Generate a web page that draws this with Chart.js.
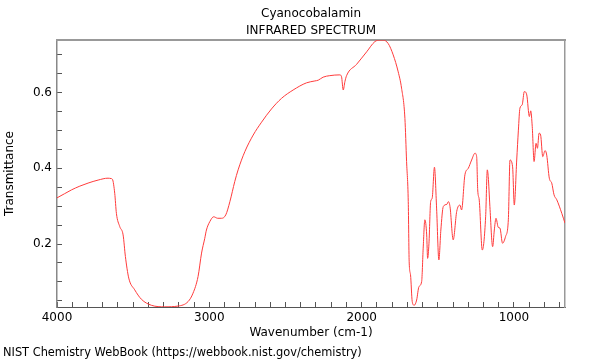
<!DOCTYPE html>
<html>
<head>
<meta charset="utf-8">
<script src="https://cdn.jsdelivr.net/npm/chart.js@4"></script>
<style>
  html, body { margin: 0; padding: 0; background: #fff; }
  #wrap { position: relative; width: 600px; height: 360px; }
  #footer { position: absolute; left: 3px; top: 345px; font: 11.4px "DejaVu Sans", sans-serif; color: #000; white-space: nowrap; }
</style>
</head>
<body>
<div id="wrap">
  <canvas id="c" width="600" height="360"></canvas>
  <div id="footer">NIST Chemistry WebBook (https://webbook.nist.gov/chemistry)</div>
</div>
<script>
const chartTitle = ['Cyanocobalamin', 'INFRARED SPECTRUM'];
const xAxisTitle = 'Wavenumber (cm-1)';
const yAxisTitle = 'Transmittance';
const xTickLabels = [4000, 3000, 2000, 1000];
const yTickLabels = [0.2, 0.4, 0.6];

const wavenumbers = [
  4000, 3950, 3905, 3850, 3796, 3730, 3665, 3645, 3636, 3621,
  3610, 3588, 3566, 3551, 3529, 3490, 3446, 3380, 3293, 3205,
  3139, 3107, 3074, 3051, 3030, 3019, 2997, 2971, 2945, 2920,
  2892, 2865, 2833, 2811, 2767, 2712, 2657, 2592, 2526, 2450,
  2362, 2307, 2285, 2253, 2209, 2143, 2132, 2121, 2110, 2099,
  2033, 1967, 1913, 1880, 1859, 1826, 1793, 1760, 1738, 1716,
  1705, 1694, 1688, 1679, 1668, 1655, 1639, 1624, 1606, 1596,
  1585, 1573, 1567, 1558, 1547, 1537, 1522, 1508, 1493, 1480,
  1464, 1440, 1431, 1420, 1399, 1376, 1355, 1344, 1322, 1300,
  1278, 1256, 1245, 1238, 1228, 1208, 1186, 1175, 1169, 1158,
  1140, 1129, 1118, 1103, 1092, 1075, 1055, 1037, 1026, 1009,
  998, 982, 971, 961, 946, 932, 916, 899, 890, 880,
  868, 855, 846, 835, 825, 811, 796, 785, 768, 752,
  737, 719, 686, 665
];
const transmittance = [
  0.322, 0.333, 0.343, 0.353, 0.361, 0.369, 0.374, 0.373, 0.371, 0.334,
  0.281, 0.246, 0.224, 0.167, 0.110, 0.079, 0.054, 0.038, 0.034, 0.036,
  0.048, 0.070, 0.114, 0.176, 0.215, 0.237, 0.259, 0.272, 0.268, 0.268,
  0.277, 0.312, 0.365, 0.396, 0.444, 0.488, 0.522, 0.557, 0.585, 0.607,
  0.626, 0.631, 0.633, 0.641, 0.645, 0.647, 0.642, 0.607, 0.629, 0.645,
  0.675, 0.708, 0.735, 0.739, 0.739, 0.730, 0.700, 0.655, 0.612, 0.532,
  0.418, 0.312, 0.153, 0.118, 0.048, 0.038, 0.052, 0.087, 0.101, 0.189,
  0.264, 0.224, 0.162, 0.202, 0.312, 0.321, 0.403, 0.295, 0.158, 0.237,
  0.299, 0.305, 0.312, 0.299, 0.211, 0.286, 0.303, 0.290, 0.383, 0.400,
  0.422, 0.440, 0.431, 0.343, 0.316, 0.184, 0.272, 0.396, 0.378, 0.299,
  0.193, 0.237, 0.268, 0.244, 0.242, 0.202, 0.220, 0.264, 0.422, 0.404,
  0.303, 0.422, 0.501, 0.559, 0.568, 0.603, 0.594, 0.537, 0.552, 0.510,
  0.418, 0.466, 0.453, 0.493, 0.488, 0.431, 0.447, 0.435, 0.374, 0.361,
  0.330, 0.317, 0.281, 0.255
];

const points = wavenumbers.map((w, i) => ({ x: w, y: transmittance[i] }));
const near = (v, list) => list.some(t => Math.abs(v - t) < 1e-6);

Chart.defaults.font.family = '"DejaVu Sans", sans-serif';
Chart.defaults.font.size = 12;
Chart.defaults.color = '#000';

new Chart(document.getElementById('c'), {
  type: 'line',
  data: {
    datasets: [{
      data: points,
      borderColor: '#ff3b3b',
      borderWidth: 1,
      pointRadius: 0,
      fill: false,
      cubicInterpolationMode: 'monotone'
    }]
  },
  options: {
    responsive: false,
    animation: false,
    events: [],
    layout: { padding: { left: 0, right: 35, top: 0, bottom: 20 } },
    plugins: {
      legend: { display: false },
      tooltip: { enabled: false },
      title: {
        display: true,
        fullSize: false,
        text: chartTitle,
        font: { size: 12, weight: 'normal', lineHeight: 1.42 },
        color: '#000',
        padding: { top: 5, bottom: 1 }
      }
    },
    scales: {
      x: {
        type: 'linear',
        position: 'bottom',
        reverse: true,
        min: 665,
        max: 4000,
        afterFit: s => { s.height = 33; },
        border: { display: true, color: '#555', width: 1 },
        grid: { drawOnChartArea: false, drawTicks: true, tickLength: -5, tickColor: '#555' },
        ticks: {
          stepSize: 100,
          autoSkip: false,
          maxRotation: 0,
          includeBounds: false,
          padding: 9,
          callback: v => near(v, xTickLabels) ? String(v) : ''
        },
        title: { display: true, text: xAxisTitle, padding: { top: 0, bottom: 0 }, font: { size: 12 } }
      },
      y: {
        type: 'linear',
        position: 'left',
        min: 0.0335,
        max: 0.739,
        afterFit: s => { s.width = 57; },
        border: { display: true, color: '#888', width: 1.5 },
        grid: { drawOnChartArea: false, drawTicks: true, tickLength: -5, tickColor: '#555' },
        ticks: {
          stepSize: 0.05,
          autoSkip: false,
          includeBounds: false,
          padding: 10,
          callback: v => near(v, yTickLabels) ? v.toFixed(1) : ''
        },
        title: { display: true, text: yAxisTitle, padding: { top: 3, bottom: 0 }, font: { size: 12 } }
      },
      x2: {
        type: 'linear',
        position: 'top',
        min: 665,
        max: 4000,
        reverse: true,
        afterFit: s => { s.height = 0; },
        border: { display: true, color: '#999', width: 2 },
        grid: { display: false, drawTicks: false },
        ticks: { display: false }
      },
      y2: {
        type: 'linear',
        position: 'right',
        min: 0.0335,
        max: 0.739,
        afterFit: s => { s.width = 0; },
        border: { display: true, color: '#999', width: 1.5 },
        grid: { display: false, drawTicks: false },
        ticks: { display: false }
      }
    }
  }
});
</script>
</body>
</html>
